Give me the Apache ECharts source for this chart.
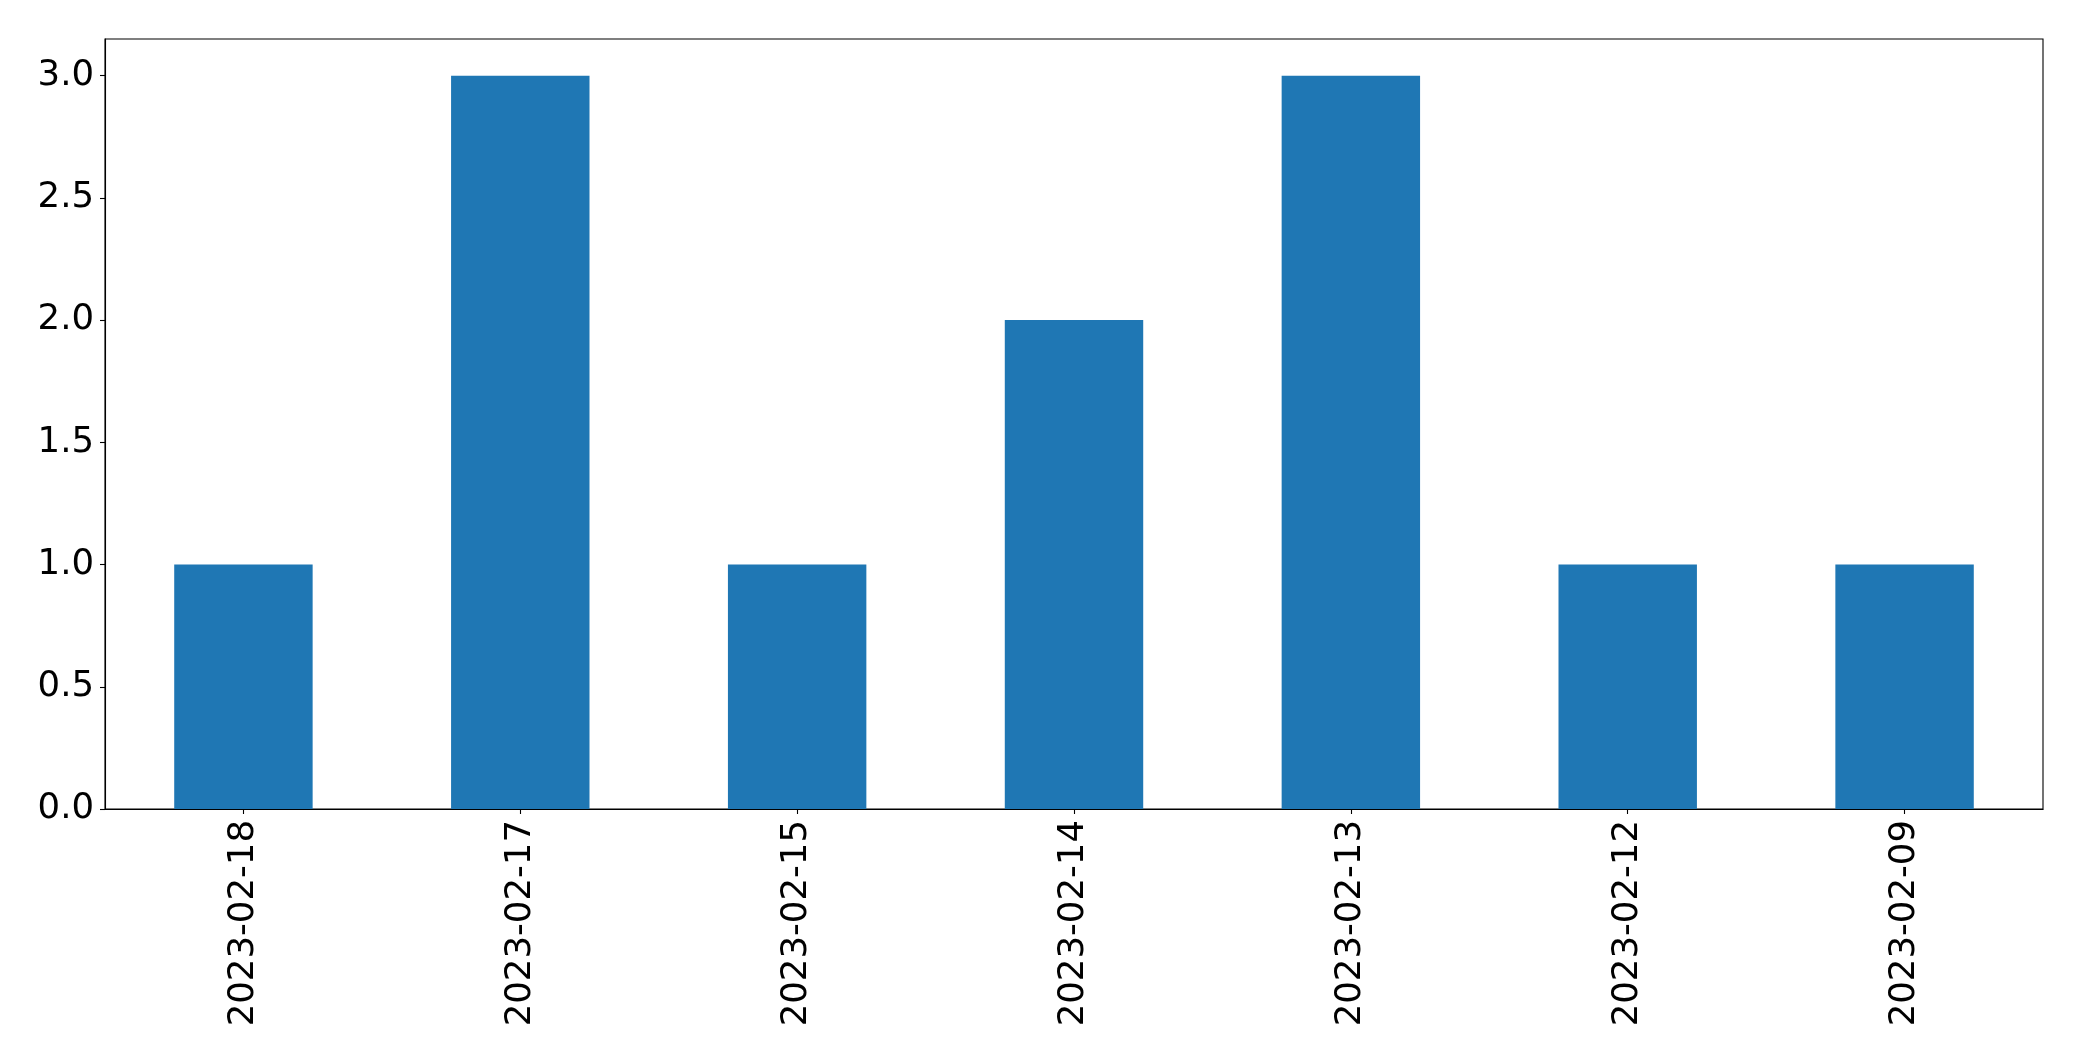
<!DOCTYPE html>
<html>
<head>
<meta charset="utf-8">
<script src="https://cdn.jsdelivr.net/npm/echarts@6/dist/echarts.min.js"></script>
<style>
html,body{margin:0;padding:0;background:#fff;}
#chart{width:2082px;height:1061px;}
</style>
</head>
<body>
<div id="chart"></div>
<script>
const categories = ['2023-02-18','2023-02-17','2023-02-15','2023-02-14','2023-02-13','2023-02-12','2023-02-09'];
const counts = [1, 3, 1, 2, 3, 1, 1];
const yTicks = [0, 0.5, 1.0, 1.5, 2.0, 2.5, 3.0];

const chart = echarts.init(document.getElementById('chart'), null, {renderer: 'canvas'});
const font = 'DejaVu Sans';
chart.setOption({
  animation: false,
  backgroundColor: '#ffffff',
  grid: {
    left: 105, right: 39, top: 39, bottom: 252,
    show: true, borderColor: '#000', borderWidth: 1.1, backgroundColor: 'transparent'
  },
  xAxis: {
    type: 'category',
    data: categories,
    axisLine: {show: true, lineStyle: {color: '#000', width: 1.1}},
    axisTick: {show: true, alignWithLabel: true, length: 5, lineStyle: {color: '#000', width: 1.1}},
    axisLabel: {rotate: 90, margin: 11, color: '#000', fontSize: 35.5, fontFamily: font, interval: 0},
    splitLine: {show: false}
  },
  yAxis: {
    type: 'value',
    min: 0, max: 3.15,
    axisLine: {show: true, lineStyle: {color: '#000', width: 1.1}},
    axisTick: {show: true, length: 5, customValues: yTicks, lineStyle: {color: '#000', width: 1.1}},
    axisLabel: {margin: 11, color: '#000', fontSize: 35.5, fontFamily: font, customValues: yTicks,
      formatter: v => v.toFixed(1)},
    splitLine: {show: false}
  },
  series: [{
    type: 'bar',
    data: counts,
    barWidth: '50%',
    itemStyle: {color: '#1f77b4'}
  }]
});
</script>
</body>
</html>
